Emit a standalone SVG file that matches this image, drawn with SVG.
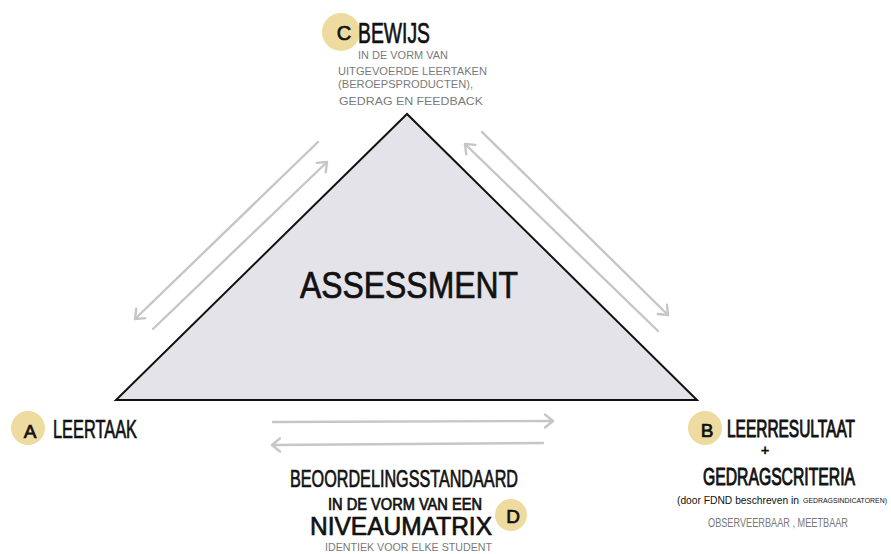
<svg xmlns="http://www.w3.org/2000/svg" width="891" height="554" viewBox="0 0 891 554">
  <style>
    .hand { font-family: "Liberation Sans", "DejaVu Sans", sans-serif; fill: #111; stroke: #111; stroke-width: 0.7; }
    .fine { font-family: "Liberation Sans", "DejaVu Sans", sans-serif; fill: #111; }
    .note { font-family: "Liberation Sans", "DejaVu Sans", sans-serif; fill: #7a7a7a; }
    .badge { fill: #eedb9f; }
    .flow { stroke: #c6c6c6; stroke-width: 2.4; fill: none; stroke-linecap: round; marker-end: url(#chev); }
  </style>
  <defs>
    <marker id="chev" viewBox="-10 -8 12 16" markerWidth="12" markerHeight="16" markerUnits="userSpaceOnUse" refX="0" refY="0" orient="auto">
      <path d="M-8,-6.5 L0,0 L-8,6.5" fill="none" stroke="#c6c6c6" stroke-width="2.4" stroke-linecap="round" stroke-linejoin="round"/>
    </marker>
  </defs>
  <rect width="891" height="554" fill="#ffffff"/>

  <!-- central triangle -->
  <g id="assessment">
    <polygon points="407,114 116,400 697,400" fill="#e4e3ea" stroke="#111" stroke-width="2" stroke-linejoin="miter"/>
    <text class="hand" x="300" y="298" font-size="36" textLength="218" lengthAdjust="spacingAndGlyphs" stroke-width="1">ASSESSMENT</text>
  </g>

  <!-- flows between the corners -->
  <g id="connectors">
    <line class="flow" x1="318" y1="142" x2="135" y2="319"/>
    <line class="flow" x1="153" y1="329" x2="327" y2="162"/>
    <line class="flow" x1="482" y1="132" x2="668" y2="315"/>
    <line class="flow" x1="658" y1="331" x2="465" y2="144"/>
    <line class="flow" x1="273" y1="422" x2="553" y2="421"/>
    <line class="flow" x1="543" y1="443" x2="272" y2="445"/>
  </g>

  <!-- C: evidence -->
  <g id="node-c">
    <circle class="badge" cx="341" cy="32" r="19"/>
    <text class="hand" x="344" y="40" font-size="20" text-anchor="middle">C</text>
    <text class="hand" x="358" y="43" font-size="29" textLength="72" lengthAdjust="spacingAndGlyphs">BEWIJS</text>
    <text class="note" x="358" y="59" font-size="11" textLength="90" lengthAdjust="spacingAndGlyphs">IN DE VORM VAN</text>
    <text class="note" x="338" y="75" font-size="11" textLength="149" lengthAdjust="spacingAndGlyphs">UITGEVOERDE LEERTAKEN</text>
    <text class="note" x="338" y="88" font-size="11" textLength="135" lengthAdjust="spacingAndGlyphs">(BEROEPSPRODUCTEN),</text>
    <text class="note" x="339" y="105" font-size="11" textLength="144" lengthAdjust="spacingAndGlyphs">GEDRAG EN FEEDBACK</text>
  </g>

  <!-- A: learning task -->
  <g id="node-a">
    <circle class="badge" cx="28" cy="428" r="17"/>
    <text class="hand" x="30" y="438" font-size="19" text-anchor="middle">A</text>
    <text class="hand" x="53" y="438" font-size="25" textLength="84" lengthAdjust="spacingAndGlyphs">LEERTAAK</text>
  </g>

  <!-- B: learning outcome (tall narrow lettering via vertical scale) -->
  <g id="node-b">
    <circle class="badge" cx="705" cy="428" r="17"/>
    <text class="hand" x="707" y="437" font-size="19" text-anchor="middle">B</text>
    <text class="hand" transform="translate(727,437) scale(1,1.4)" x="0" y="0" font-size="17" stroke-width="0.6" textLength="128" lengthAdjust="spacingAndGlyphs">LEERRESULTAAT</text>
    <text class="hand" x="765" y="455" font-size="14" text-anchor="middle">+</text>
    <text class="hand" transform="translate(703,485) scale(1,1.45)" x="0" y="0" font-size="17" stroke-width="0.6" textLength="152" lengthAdjust="spacingAndGlyphs">GEDRAGSCRITERIA</text>
    <text class="fine" x="677" y="504" font-size="11" textLength="122" lengthAdjust="spacingAndGlyphs">(door FDND beschreven in</text>
    <text class="fine" transform="translate(803,503) scale(1,1.2)" x="0" y="0" font-size="6.5" textLength="84" lengthAdjust="spacingAndGlyphs">GEDRAGSINDICATOREN)</text>
    <text class="note" transform="translate(708,527) scale(1,1.3)" x="0" y="0" font-size="10" textLength="140" lengthAdjust="spacingAndGlyphs">OBSERVEERBAAR , MEETBAAR</text>
  </g>

  <!-- D: assessment standard -->
  <g id="node-d">
    <circle class="badge" cx="511" cy="515" r="16"/>
    <text class="hand" x="290" y="487" font-size="24" textLength="228" lengthAdjust="spacingAndGlyphs">BEOORDELINGSSTANDAARD</text>
    <text class="hand" x="328" y="510" font-size="16" textLength="154" lengthAdjust="spacingAndGlyphs">IN DE VORM VAN EEN</text>
    <text class="hand" x="310" y="535" font-size="25" textLength="182" lengthAdjust="spacingAndGlyphs">NIVEAUMATRIX</text>
    <text class="hand" x="513" y="523" font-size="19" text-anchor="middle">D</text>
    <text class="note" x="325" y="551" font-size="11" textLength="167" lengthAdjust="spacingAndGlyphs">IDENTIEK VOOR ELKE STUDENT</text>
  </g>
</svg>
